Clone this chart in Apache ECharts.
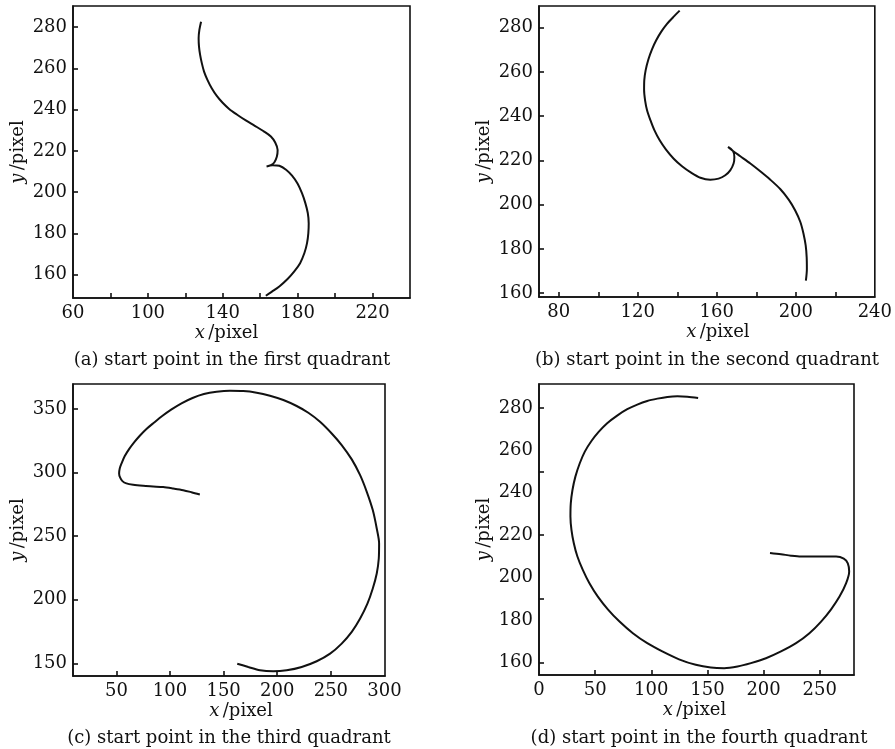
<!DOCTYPE html>
<html>
<head>
<meta charset="utf-8">
<script src="https://cdn.jsdelivr.net/npm/echarts@6/dist/echarts.min.js"></script>
<style>
html,body{margin:0;padding:0;background:#fff;}
#chart{width:895px;height:749px;}
</style>
</head>
<body>
<div id="chart"></div>
<script>
// ---- data ----
var captions = [
  '(a) start point in the first quadrant',
  '(b) start point in the second quadrant',
  '(c) start point in the third quadrant',
  '(d) start point in the fourth quadrant'
];

var curveA = [[128.4,282.7],[127.5,278.7],[127.1,274.7],[127.3,270.6],[127.9,266.6],[128.8,262.6],[130.0,258.5],[131.8,254.5],[134.1,250.4],[136.8,246.7],[139.8,243.5],[143.4,240.4],[147.5,237.7],[152.3,234.8],[157.1,232.2],[162.1,229.4],[165.7,227.0],[168.0,224.1],[169.3,220.5],[168.9,217.3],[167.5,214.4],[165.7,213.1],[163.4,212.5],[166.6,213.1],[170.2,212.8],[173.8,210.9],[177.0,208.0],[180.0,204.1],[182.3,199.5],[184.1,194.7],[185.4,189.9],[185.9,185.0],[185.7,180.2],[185.0,175.3],[183.6,170.5],[181.3,165.6],[178.2,161.6],[174.6,157.9],[170.2,154.3],[166.1,151.7],[163.0,149.8]];

var curveB = [[141.2,287.7],[138.2,285.0],[134.8,281.7],[131.9,278.2],[129.4,274.4],[127.2,270.2],[125.4,265.7],[124.0,260.8],[123.3,256.3],[123.2,251.8],[123.7,247.2],[124.7,242.7],[126.4,238.2],[128.4,233.7],[131.1,229.1],[134.3,224.9],[138.2,220.8],[142.4,217.4],[147.0,214.5],[151.7,212.2],[156.7,211.3],[160.9,211.8],[164.3,213.3],[166.8,215.5],[168.5,218.6],[168.9,221.6],[168.2,224.3],[165.7,226.1],[168.2,224.3],[171.9,221.9],[177.0,218.6],[182.0,215.1],[187.1,211.3],[192.1,207.1],[196.4,202.3],[199.7,197.4],[202.3,192.2],[203.9,186.9],[205.0,181.6],[205.5,176.3],[205.6,171.0],[205.1,165.7]];

var curveC = [[127.8,282.8],[120.0,284.6],[112.3,286.2],[102.9,287.5],[93.6,288.6],[84.2,289.1],[74.9,289.6],[65.6,290.4],[59.3,291.5],[55.6,293.3],[53.4,296.2],[52.5,299.3],[53.1,303.3],[55.0,307.7],[57.8,313.0],[61.8,318.5],[66.5,323.8],[71.8,329.0],[78.0,334.3],[84.9,339.2],[92.7,344.5],[101.4,349.7],[110.7,354.5],[121.0,358.7],[131.6,361.8],[143.4,363.6],[155.9,364.4],[168.3,364.2],[180.8,362.9],[193.2,360.5],[205.7,357.1],[218.1,352.4],[229.0,347.1],[239.9,340.0],[250.8,330.8],[260.1,321.7],[269.5,310.4],[277.3,298.0],[283.5,284.9],[289.1,270.5],[292.8,256.0],[295.0,244.2],[294.7,232.4],[292.8,220.6],[289.1,208.8],[284.1,196.9],[277.3,185.2],[269.5,174.7],[260.1,165.5],[249.3,157.6],[236.8,151.6],[222.8,147.1],[208.8,144.5],[196.3,143.7],[183.9,144.5],[173.0,147.1],[162.7,149.7]];

var curveD = [[141.7,284.7],[132.1,285.3],[123.2,285.5],[114.3,285.2],[105.4,284.4],[96.4,283.3],[87.5,281.6],[78.6,279.4],[69.6,276.4],[60.7,272.8],[53.3,268.8],[46.7,264.4],[40.8,259.4],[36.3,253.9],[32.4,247.6],[29.8,241.3],[28.3,235.0],[28.0,228.7],[28.9,222.5],[31.0,216.2],[34.2,209.9],[39.0,203.6],[44.9,197.3],[52.4,191.0],[61.3,185.0],[71.7,179.2],[83.6,173.7],[96.4,169.0],[109.8,165.1],[124.7,161.4],[139.6,158.8],[153.0,157.5],[164.9,157.2],[176.8,158.0],[188.7,159.6],[202.1,161.9],[215.5,165.1],[228.9,169.0],[240.8,173.7],[251.2,179.2],[260.1,185.0],[267.6,191.0],[273.5,197.3],[276.2,202.8],[275.0,206.7],[271.4,208.9],[264.6,209.9],[254.2,209.9],[245.2,209.9],[233.3,209.9],[224.4,210.3],[215.5,211.0],[205.7,211.6]];

// axis ranges
var xRangeA = [60, 240], yRangeA = [148.7, 290.3];
var xRangeB = [70, 240], yRangeB = [158.3, 289.8];
var xRangeC = [9.5, 300.5], yRangeC = [140, 369.7];
var xRangeD = [0, 280.5], yRangeD = [154, 291.3];

// tick labels and tick marks
var xLabelsA = [60, 100, 140, 180, 220];
var xTicksA  = [80, 100, 120, 140, 160, 180, 200, 220];
var yLabelsA = [160, 180, 200, 220, 240, 260, 280];
var yTicksA  = [160, 180, 200, 220, 240, 260, 280];

var xLabelsB = [80, 120, 160, 200, 240];
var xTicksB  = [80, 100, 120, 140, 160, 180, 200, 220];
var yLabelsB = [160, 180, 200, 220, 240, 260, 280];
var yTicksB  = [160, 180, 200, 220, 240, 260, 280];

var xLabelsC = [50, 100, 150, 200, 250, 300];
var xTicksC  = [50, 100, 150, 200, 250];
var yLabelsC = [150, 200, 250, 300, 350];
var yTicksC  = [150, 200, 250, 300, 350];

var xLabelsD = [0, 50, 100, 150, 200, 250];
var xTicksD  = [50, 100, 150, 200, 250];
var yLabelsD = [160, 180, 200, 220, 240, 260, 280];
var yTicksD  = [160, 190, 220, 250, 280];

// ---- chart ----
var FONT = 'DejaVu Serif';
var FS = 18;
var INK = '#111';

var panels = [
  {grid:{left:73, top:6, width:337, height:292}, curve:curveA, xr:xRangeA, yr:yRangeA, xl:xLabelsA, xt:xTicksA, yl:yLabelsA, yt:yTicksA, xShift:-15, cap:[232,360]},
  {grid:{left:539, top:6, width:336, height:291}, curve:curveB, xr:xRangeB, yr:yRangeB, xl:xLabelsB, xt:xTicksB, yl:yLabelsB, yt:yTicksB, xShift:11, cap:[707,360]},
  {grid:{left:73, top:384, width:312, height:292}, curve:curveC, xr:xRangeC, yr:yRangeC, xl:xLabelsC, xt:xTicksC, yl:yLabelsC, yt:yTicksC, xShift:12, cap:[229,738]},
  {grid:{left:539, top:384, width:315, height:291}, curve:curveD, xr:xRangeD, yr:yRangeD, xl:xLabelsD, xt:xTicksD, yl:yLabelsD, yt:yTicksD, xShift:-2, cap:[699,738]}
];

var rich = {
  i: {fontFamily: FONT, fontSize: FS, fontStyle: 'italic', color: INK},
  n: {fontFamily: FONT, fontSize: FS, color: INK}
};

function padFor(shift){
  return shift >= 0 ? [0, 0, 0, 2*shift] : [0, -2*shift, 0, 0];
}

var option = {
  backgroundColor: '#fff',
  animation: false,
  grid: [], xAxis: [], yAxis: [], series: [], graphic: []
};

panels.forEach(function(p, k){
  option.grid.push(Object.assign({show:true, borderColor:INK, borderWidth:1.6, backgroundColor:'transparent', containLabel:false}, p.grid));
  option.xAxis.push({
    type:'value', gridIndex:k, min:p.xr[0], max:p.xr[1],
    name:'{i|x} {n|/pixel}', nameLocation:'middle', nameGap:26,
    nameTextStyle:{rich:rich, padding:padFor(p.xShift)},
    axisLine:{show:true, onZero:false, lineStyle:{color:INK, width:1.6}},
    axisTick:{show:true, inside:true, length:5, customValues:p.xt, lineStyle:{color:INK, width:1.6}},
    axisLabel:{customValues:p.xl, margin:6, color:INK, fontFamily:FONT, fontSize:FS},
    splitLine:{show:false}
  });
  option.yAxis.push({
    type:'value', gridIndex:k, min:p.yr[0], max:p.yr[1],
    name:'{i|y} {n|/pixel}', nameLocation:'middle', nameGap:46,
    nameTextStyle:{rich:rich},
    axisLine:{show:true, onZero:false, lineStyle:{color:INK, width:1.6}},
    axisTick:{show:true, inside:true, length:5, customValues:p.yt, lineStyle:{color:INK, width:1.6}},
    axisLabel:{customValues:p.yl, margin:6, color:INK, fontFamily:FONT, fontSize:FS},
    splitLine:{show:false}
  });
  option.series.push({
    type:'line', xAxisIndex:k, yAxisIndex:k, data:p.curve,
    showSymbol:false, smooth:0.3, clip:true,
    lineStyle:{color:INK, width:2}
  });
  option.graphic.push({
    type:'text', x:p.cap[0], y:p.cap[1],
    style:{text:captions[k], fill:INK, font: FS + 'px "' + FONT + '"', textAlign:'center', textVerticalAlign:'middle'}
  });
});

var chart = echarts.init(document.getElementById('chart'), null, {renderer:'canvas'});
chart.setOption(option);
</script>
</body>
</html>
